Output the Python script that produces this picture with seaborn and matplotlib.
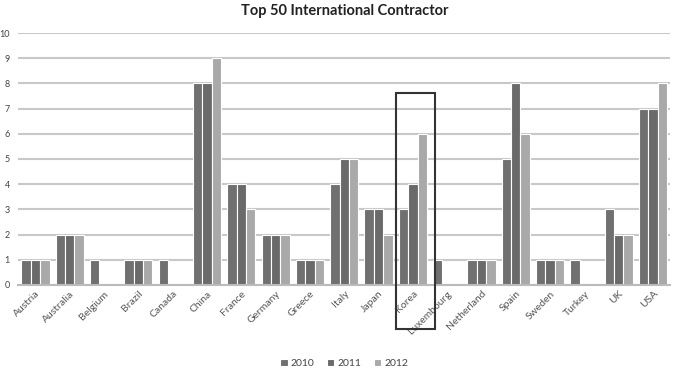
import matplotlib
matplotlib.use("Agg")
import matplotlib.pyplot as plt
import seaborn as sns
import pandas as pd
from matplotlib.patches import Rectangle

countries = ["Austria", "Australia", "Belgium", "Brazil", "Canada", "China", "France",
             "Germany", "Greece", "Italy", "Japan", "Korea", "Luxembourg", "Netherland",
             "Spain", "Sweden", "Turkey", "UK", "USA"]
v2010 = [1, 2, 1, 1, 1, 8, 4, 2, 1, 4, 3, 3, 1, 1, 5, 1, 1, 3, 7]
v2011 = [1, 2, 0, 1, 0, 8, 4, 2, 1, 5, 3, 4, 0, 1, 8, 1, 0, 2, 7]
v2012 = [1, 2, 0, 1, 0, 9, 3, 2, 1, 5, 2, 6, 0, 1, 6, 1, 0, 2, 8]
years = ["2010", "2011", "2012"]
yticks = list(range(0, 11))

rows = []
for yr, vals in zip(years, [v2010, v2011, v2012]):
    for c, v in zip(countries, vals):
        rows.append({"country": c, "year": yr, "value": v})
df = pd.DataFrame(rows)

sns.set_theme(style="white")
plt.rcParams['font.family'] = ['Lato', 'DejaVu Sans']

fig = plt.figure(figsize=(6.79, 3.71), dpi=100)
ax = fig.add_axes([0.027, 0.232, 0.96, 0.679])

palette = {"2010": "#707070", "2011": "#6a6a6a", "2012": "#a9a9a9"}
sns.barplot(data=df, x="country", y="value", hue="year", palette=palette,
            order=countries, hue_order=years, width=0.82, edgecolor="white",
            linewidth=0.8, ax=ax, legend=True, saturation=1)

ax.set_ylim(0, 10)
ax.set_xlim(-0.5, len(countries) - 0.5)
ax.set_yticks(yticks)
ax.set_yticklabels([str(t) for t in yticks], fontsize=6.5, color="#444444")
ax.tick_params(axis="y", length=0, pad=6)
ax.tick_params(axis="x", length=0, pad=3)
ax.set_xticks(range(len(countries)))
ax.set_xticklabels(countries, rotation=45, ha="right", rotation_mode="anchor",
                   fontsize=7.5, color="#555555")
for lbl in ax.get_xticklabels():
    lbl.set_x(lbl.get_position()[0])
ax.set_xlabel("")
ax.set_ylabel("")
ax.yaxis.grid(True, color="#c8c8c8", linewidth=1.5)
ax.set_axisbelow(True)
for s in ["left", "right", "top"]:
    ax.spines[s].set_visible(False)
ax.spines["bottom"].set_color("#bbbbbb")
ax.spines["bottom"].set_linewidth(1.5)

ki = countries.index("Korea")
rect = Rectangle((ki - 0.5, -1.75), 1.15, 9.35, fill=False, edgecolor="#333333",
                 linewidth=1.5, clip_on=False, zorder=5)
ax.add_patch(rect)

ax.set_title("Top 50 International Contractor", fontsize=10.5, fontweight="bold",
             color="#222222", pad=13)

leg = ax.legend(loc="upper center", bbox_to_anchor=(0.5, -0.255), ncol=3, frameon=False,
                fontsize=7.5, handlelength=0.7, handleheight=0.7, handletextpad=0.3,
                columnspacing=1.2)
for t in leg.get_texts():
    t.set_color("#444444")

fig.savefig("out.png", dpi=100)
